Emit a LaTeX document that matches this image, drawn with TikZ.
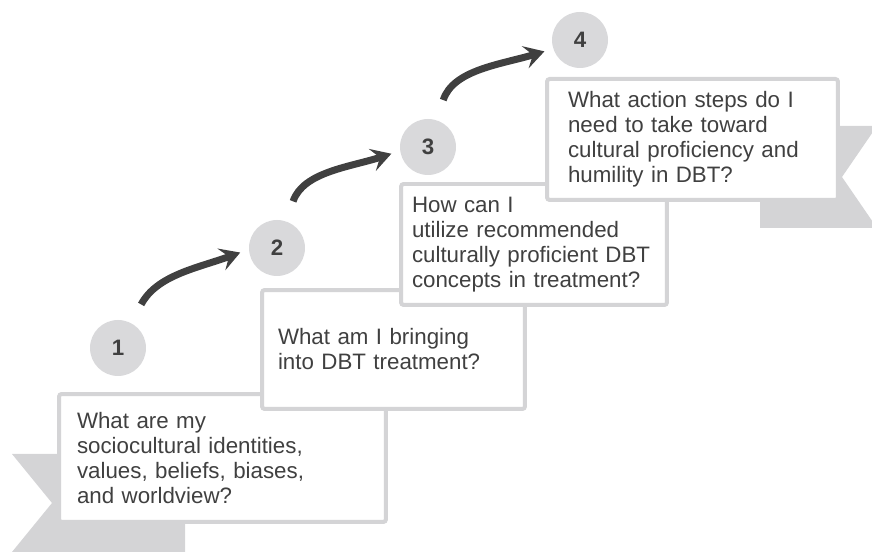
\documentclass[tikz,border=0pt]{standalone}
\usepackage{fontspec}
\setmainfont{Liberation Sans}
\usetikzlibrary{arrows.meta}

\definecolor{stepgray}{HTML}{D4D4D6}
\definecolor{numgray}{HTML}{D9D9DB}
\definecolor{inkgray}{HTML}{404040}

\begin{document}
\begin{tikzpicture}[x=0.02cm, y=0.02cm]

% --- Define Styles ---
\tikzstyle{question} = [rectangle, rounded corners=1.5pt, draw=stepgray, line width=0.08cm, fill=white, align=left, text=inkgray, font=\fontsize{12.7}{14.2}\selectfont, inner ysep=0pt]
\tikzstyle{number} = [circle, fill=numgray, minimum size=1.12cm, inner sep=0pt, text=inkgray, font=\fontsize{12.7}{14.2}\selectfont\bfseries]
\tikzstyle{ribbon} = [fill=stepgray]
\tikzstyle{arrow} = [line width=0.14cm, draw=inkgray, -{Stealth[length=0.4cm, width=0.46cm, inset=0.16cm]}, shorten <=0.42cm, shorten >=0.18cm]

\useasboundingbox (0,0) rectangle (872,553);

% --- Ribbons ---
\fill[ribbon] (12,99) -- (185,99) -- (185,1) -- (12,1) -- (52,50) -- cycle;
\fill[ribbon] (760,427) -- (877,427) -- (842,376) -- (877,325) -- (760,325) -- cycle;

% --- Question boxes ---
\node[question, minimum width=6.54cm, minimum height=2.56cm, text width=5.82cm, inner xsep=0.36cm] (q1) at (222.5,95) {What are my\\ sociocultural identities,\\ values, beliefs, biases,\\ and worldview?};
\node[question, minimum width=5.26cm, minimum height=2.38cm, text width=4.62cm, inner xsep=0.32cm] (q2) at (393.5,203.5) {What am I bringing\\ into DBT treatment?};
\node[question, minimum width=5.32cm, minimum height=2.42cm, text width=4.88cm, inner xsep=0.22cm] (q3) at (534,308.5) {How can I\\ utilize recommended\\ culturally proficient DBT\\ concepts in treatment?};
\node[question, minimum width=5.82cm, minimum height=2.42cm, text width=4.98cm, inner xsep=0.42cm] (q4) at (692.5,413.5) {What action steps do I\\ need to take toward\\ cultural proficiency and\\ humility in DBT?};

% --- Numbers ---
\node[number] (n1) at (118,205) {1};
\node[number] (n2) at (277,305) {2};
\node[number] (n3) at (428,406) {3};
\node[number] (n4) at (580,513) {4};

% --- Arrows ---
\draw[arrow] (n1.62) to[out=62, in=200] (n2.183);
\draw[arrow] (n2.71) to[out=71, in=198] (n3.188);
\draw[arrow] (n3.72) to[out=72, in=197] (n4.198);

\end{tikzpicture}
\end{document}
